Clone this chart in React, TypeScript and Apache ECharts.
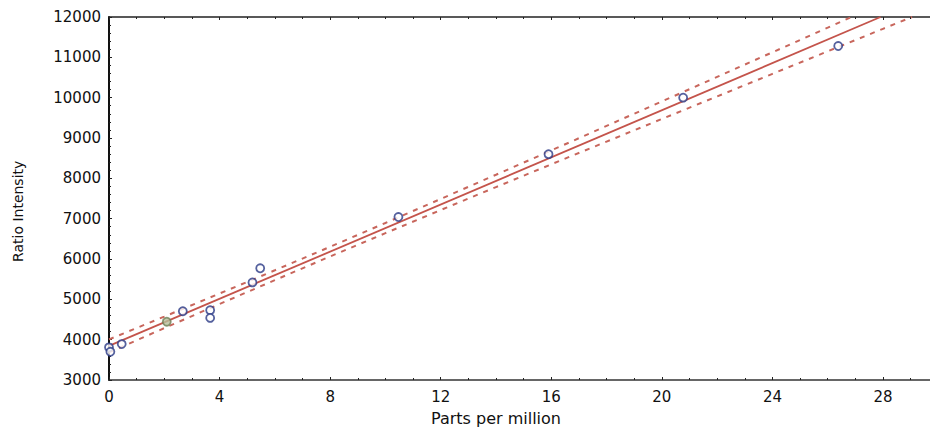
import React, { useEffect, useRef } from "react";
import * as echarts from "echarts";

// Observed calibration points (Parts per million vs Ratio Intensity)
const pointsX = [0, 0.05, 0.46, 2.09, 2.67, 3.66, 3.66, 5.19, 5.47, 10.47, 15.9, 20.77, 26.38];
const pointsY = [3810, 3700, 3890, 4445, 4705, 4730, 4540, 5420, 5770, 7040, 8600, 10000, 11280];

// Fitted regression line (read endpoints; it meets the top frame near 27.9 ppm)
const fitX = [0, 27.91];
const fitY = [3845, 12000];

// Upper confidence band (read values; meets the top frame near 26.86 ppm)
const upperX = [0, 2, 4, 6, 8, 10, 12, 14, 16, 18, 20, 22, 24, 26, 26.86];
const upperY = [4006, 4572, 5144, 5720, 6303, 6893, 7488, 8089, 8692, 9299, 9906, 10515, 11125, 11735, 12000];

// Lower confidence band (read values; meets the top frame near 29.05 ppm)
const lowerX = [0, 2, 4, 6, 8, 10, 12, 14, 16, 18, 20, 22, 24, 26, 28, 29.05];
const lowerY = [3684, 4286, 4884, 5476, 6063, 6641, 7214, 7783, 8348, 8911, 9472, 10031, 10591, 11149, 11707, 12000];

const xTitle = "Parts per million";
const yTitle = "Ratio Intensity";

const FONT = "DejaVu Sans";
const RED = "#c4544b";
const DASH_RED = "#c8665c";

export default function App() {
  const ref = useRef<HTMLDivElement>(null);

  useEffect(() => {
    document.body.style.margin = "0";
    document.body.style.overflow = "hidden";
    document.documentElement.style.overflow = "hidden";
    if (!ref.current) return;
    const chart = echarts.init(ref.current, undefined, { renderer: "svg" });

    const scatterData = pointsX.map((x, i) => {
      const item: any = { value: [x, pointsY[i]] };
      if (i === 3) {
        item.itemStyle = { color: "#b6bf9c", borderColor: "#6f7f56" };
      }
      return item;
    });

    chart.setOption({
      animation: false,
      backgroundColor: "#ffffff",
      grid: { left: 109, right: 0, top: 17, bottom: 55, outerBoundsMode: "none", containLabel: false },
      xAxis: [
        {
          type: "value",
          position: "bottom",
          min: 0,
          max: 29.7,
          interval: 4,
          axisLine: { show: true, onZero: false, lineStyle: { color: "#333", width: 1.5 } },
          axisTick: { show: true, inside: true, length: 3, lineStyle: { color: "#222" } },
          minorTick: { show: true, splitNumber: 4, length: 2, lineStyle: { color: "#222" } },
          axisLabel: {
            show: true,
            margin: 9,
            fontFamily: FONT,
            fontSize: 15,
            color: "#111",
            showMaxLabel: false,
          },
          splitLine: { show: false },
        },
        {
          type: "value",
          position: "top",
          min: 0,
          max: 29.7,
          interval: 4,
          axisLine: { show: true, onZero: false, lineStyle: { color: "#222", width: 1.5 } },
          axisTick: { show: true, inside: true, length: 3, lineStyle: { color: "#222" } },
          minorTick: { show: true, splitNumber: 4, length: 2, lineStyle: { color: "#222" } },
          axisLabel: { show: false },
          splitLine: { show: false },
        },
      ],
      yAxis: {
        type: "value",
        min: 3000,
        max: 12000,
        interval: 1000,
        axisLine: { show: true, onZero: false, lineStyle: { color: "#111", width: 2 } },
        axisTick: { show: true, inside: true, length: 3, lineStyle: { color: "#222" } },
        minorTick: { show: true, splitNumber: 5, length: 2, lineStyle: { color: "#222" } },
        axisLabel: {
          margin: 8,
          fontFamily: FONT,
          fontSize: 15,
          color: "#111",
          formatter: (v: number) => String(v),
        },
        splitLine: { show: false },
      },
      graphic: [
        {
          type: "rect",
          z: 10,
          silent: true,
          shape: { x: 909, y: 25, width: 12, height: 352 },
          style: { fill: "#ffffff" },
        },
        {
          type: "text",
          left: 496 - 65,
          top: 410,
          style: { text: xTitle, fontFamily: FONT, fontSize: 16, fill: "#111" },
        },
        {
          type: "text",
          x: 11,
          y: 262,
          rotation: Math.PI / 2,
          style: { text: yTitle, fontFamily: FONT, fontSize: 14, fill: "#111", verticalAlign: "top", align: "left" },
        },
      ],
      series: [
        {
          type: "line",
          name: "upper",
          data: upperX.map((x, i) => [x, upperY[i]]),
          showSymbol: false,
          symbol: "none",
          lineStyle: { color: DASH_RED, width: 2, type: [5, 6] },
          z: 2,
        },
        {
          type: "line",
          name: "lower",
          data: lowerX.map((x, i) => [x, lowerY[i]]),
          showSymbol: false,
          symbol: "none",
          lineStyle: { color: DASH_RED, width: 2, type: [5, 6] },
          z: 2,
        },
        {
          type: "line",
          name: "fit",
          data: fitX.map((x, i) => [x, fitY[i]]),
          showSymbol: false,
          symbol: "none",
          lineStyle: { color: RED, width: 1.8 },
          z: 3,
        },
        {
          type: "scatter",
          name: "points",
          data: scatterData,
          symbol: "circle",
          symbolSize: 8,
          itemStyle: { color: "#ffffff", borderColor: "#2b3a86", borderWidth: 1.8 },
          z: 4,
        },
      ],
    });

    return () => {
      chart.dispose();
    };
  }, []);

  return (
    <div
      ref={ref}
      style={{ position: "fixed", left: 0, top: 0, width: 930, height: 435 }}
    />
  );
}
